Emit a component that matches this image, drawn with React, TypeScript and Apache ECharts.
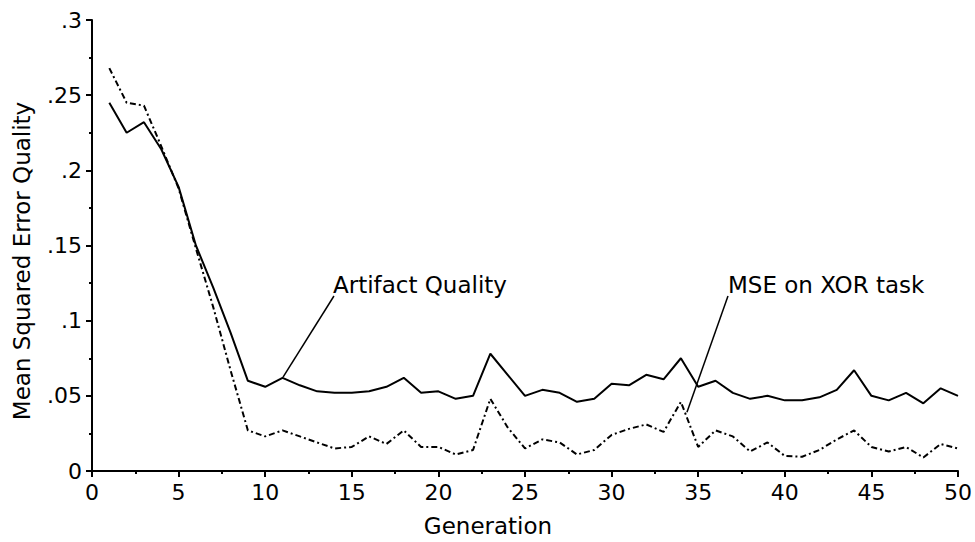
import React, { useEffect, useRef } from "react";
import * as echarts from "echarts";

const generations = [1,2,3,4,5,6,7,8,9,10,11,12,13,14,15,16,17,18,19,20,21,22,23,24,25,26,27,28,29,30,31,32,33,34,35,36,37,38,39,40,41,42,43,44,45,46,47,48,49,50];

const artifactQuality = [0.245,0.225,0.232,0.214,0.189,0.150,0.122,0.092,0.060,0.056,0.062,0.057,0.053,0.052,0.052,0.053,0.056,0.062,0.052,0.053,0.048,0.050,0.078,0.064,0.050,0.054,0.052,0.046,0.048,0.058,0.057,0.064,0.061,0.075,0.056,0.060,0.052,0.048,0.050,0.047,0.047,0.049,0.054,0.067,0.050,0.047,0.052,0.045,0.055,0.050];

const mseXor = [0.268,0.245,0.243,0.216,0.188,0.148,0.109,0.067,0.027,0.023,0.027,0.023,0.019,0.015,0.016,0.023,0.018,0.027,0.016,0.016,0.011,0.014,0.048,0.029,0.015,0.021,0.019,0.011,0.014,0.024,0.028,0.031,0.026,0.046,0.016,0.027,0.023,0.013,0.019,0.010,0.0095,0.014,0.021,0.027,0.016,0.013,0.016,0.009,0.018,0.015];

const artifactPointer = [[13.97, 0.1164], [11.03, 0.0625]];
const msePointer = [[36.72, 0.1164], [34.35, 0.039]];

const FONT = "'DejaVu Sans', sans-serif";

export default function App() {
  const ref = useRef<HTMLDivElement>(null);
  useEffect(() => {
    if (!ref.current) return;
    const chart = echarts.init(ref.current, null, { renderer: "svg" });
    const fmtY = (v: number) => {
      if (v === 0) return "0";
      return String(+v.toFixed(3)).replace(/^0\./, ".");
    };
    chart.setOption({
      animation: false,
      backgroundColor: "#ffffff",
      grid: { left: 92, top: 20, right: 17, bottom: 71, containLabel: false },
      xAxis: {
        type: "value",
        min: 0,
        max: 50,
        interval: 5,
        axisLine: { show: true, lineStyle: { color: "#000", width: 2 } },
        axisTick: { show: true, inside: false, length: 6, lineStyle: { color: "#000", width: 2 } },
        minorTick: { show: true, splitNumber: 2, length: 3, lineStyle: { color: "#000", width: 2 } },
        splitLine: { show: false },
        axisLabel: { color: "#000", fontSize: 22, fontFamily: FONT, margin: 10 },
      },
      yAxis: {
        type: "value",
        min: 0,
        max: 0.3,
        interval: 0.05,
        axisLine: { show: true, lineStyle: { color: "#000", width: 2 } },
        axisTick: { show: true, inside: false, length: 6, lineStyle: { color: "#000", width: 2 } },
        minorTick: { show: true, splitNumber: 2, length: 3, lineStyle: { color: "#000", width: 2 } },
        splitLine: { show: false },
        axisLabel: { color: "#000", fontSize: 22, fontFamily: FONT, margin: 10, formatter: fmtY },
      },
      series: [
        {
          name: "Artifact Quality",
          type: "line",
          data: generations.map((g, i) => [g, artifactQuality[i]]),
          symbol: "none",
          lineStyle: { color: "#000", width: 2 },
          silent: true,
        },
        {
          name: "MSE on XOR task",
          type: "line",
          data: generations.map((g, i) => [g, mseXor[i]]),
          symbol: "none",
          lineStyle: { color: "#000", width: 2, type: [6, 3, 2, 3] },
          silent: true,
        },
        {
          type: "line",
          data: artifactPointer,
          symbol: "none",
          lineStyle: { color: "#000", width: 1.5 },
          silent: true,
        },
        {
          type: "line",
          data: msePointer,
          symbol: "none",
          lineStyle: { color: "#000", width: 1.5 },
          silent: true,
        },
      ],
      graphic: [
        {
          type: "text",
          x: 333,
          y: 285,
          style: { text: "Artifact Quality", fill: "#000", font: `23px ${FONT}`, align: "left", verticalAlign: "middle" },
        },
        {
          type: "text",
          x: 728,
          y: 285,
          style: { text: "MSE on XOR task", fill: "#000", font: `23px ${FONT}`, align: "left", verticalAlign: "middle" },
        },
        {
          type: "text",
          x: 488,
          y: 526,
          style: { text: "Generation", fill: "#000", font: `23px ${FONT}`, align: "center", verticalAlign: "middle" },
        },
        {
          type: "text",
          x: 22,
          y: 261,
          rotation: Math.PI / 2,
          style: { text: "Mean Squared Error Quality", fill: "#000", font: `23px ${FONT}`, align: "center", verticalAlign: "middle" },
        },
      ],
    });
    return () => chart.dispose();
  }, []);
  return (
    <div
      ref={ref}
      style={{ position: "absolute", left: 0, top: 0, width: 975, height: 542, background: "#fff" }}
    />
  );
}
